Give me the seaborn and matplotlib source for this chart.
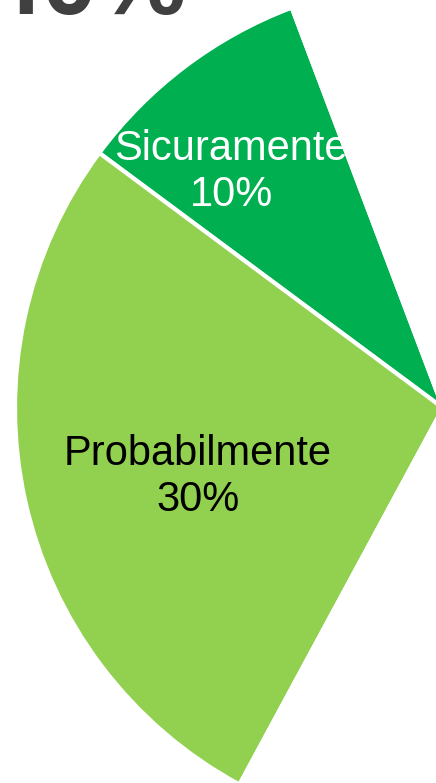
import matplotlib
matplotlib.use("Agg")
import matplotlib.pyplot as plt
import seaborn as sns

# ---- data ----
categories = ["Sicuramente", "Probabilmente", "Altro"]
shares = [10, 30, 70]            # last slice: hidden remainder of the pie (not shown)
shown_labels = ["Sicuramente\n10%", "Probabilmente\n30%"]
total_label = "40%"

# ---- style ----
sns.set_theme(style="white")
plt.rcParams["font.family"] = ["Liberation Sans", "DejaVu Sans"]

colors = ["#00B050", "#92D050", "white"]
text_colors = ["white", "black"]

W, H = 436, 783
fig = plt.figure(figsize=(W / 100, H / 100), dpi=100)
ax = fig.add_axes([0, 0, 1, 1])

cx, cy, r = 443.0, 408.0, 428.0   # pie centre / radius in pixels
wedges, _ = ax.pie(
    shares,
    colors=colors,
    startangle=110.7,
    counterclock=True,
    radius=1.0,
    wedgeprops=dict(edgecolor="white", linewidth=3.0),
)
ax.set_aspect("auto")
ax.set_xlim((0 - cx) / r, (W - cx) / r)
ax.set_ylim(-(H - cy) / r, cy / r)
ax.axis("off")

# slice labels
label_pos = [((231 - cx) / r, (cy - 172) / r), ((198 - cx) / r, (cy - 477) / r)]
for txt, (x, y), c in zip(shown_labels, label_pos, text_colors):
    ax.text(x, y, txt, ha="center", va="center", multialignment="center",
            fontsize=30, color=c, linespacing=1.2)

# headline total, cut by the top edge as in the reference
fig.text(-13 / W, 1 - 14 / H, total_label, ha="left", va="baseline",
         fontsize=72, fontweight="bold", color="#404040")

fig.savefig("out.png", dpi=100)
